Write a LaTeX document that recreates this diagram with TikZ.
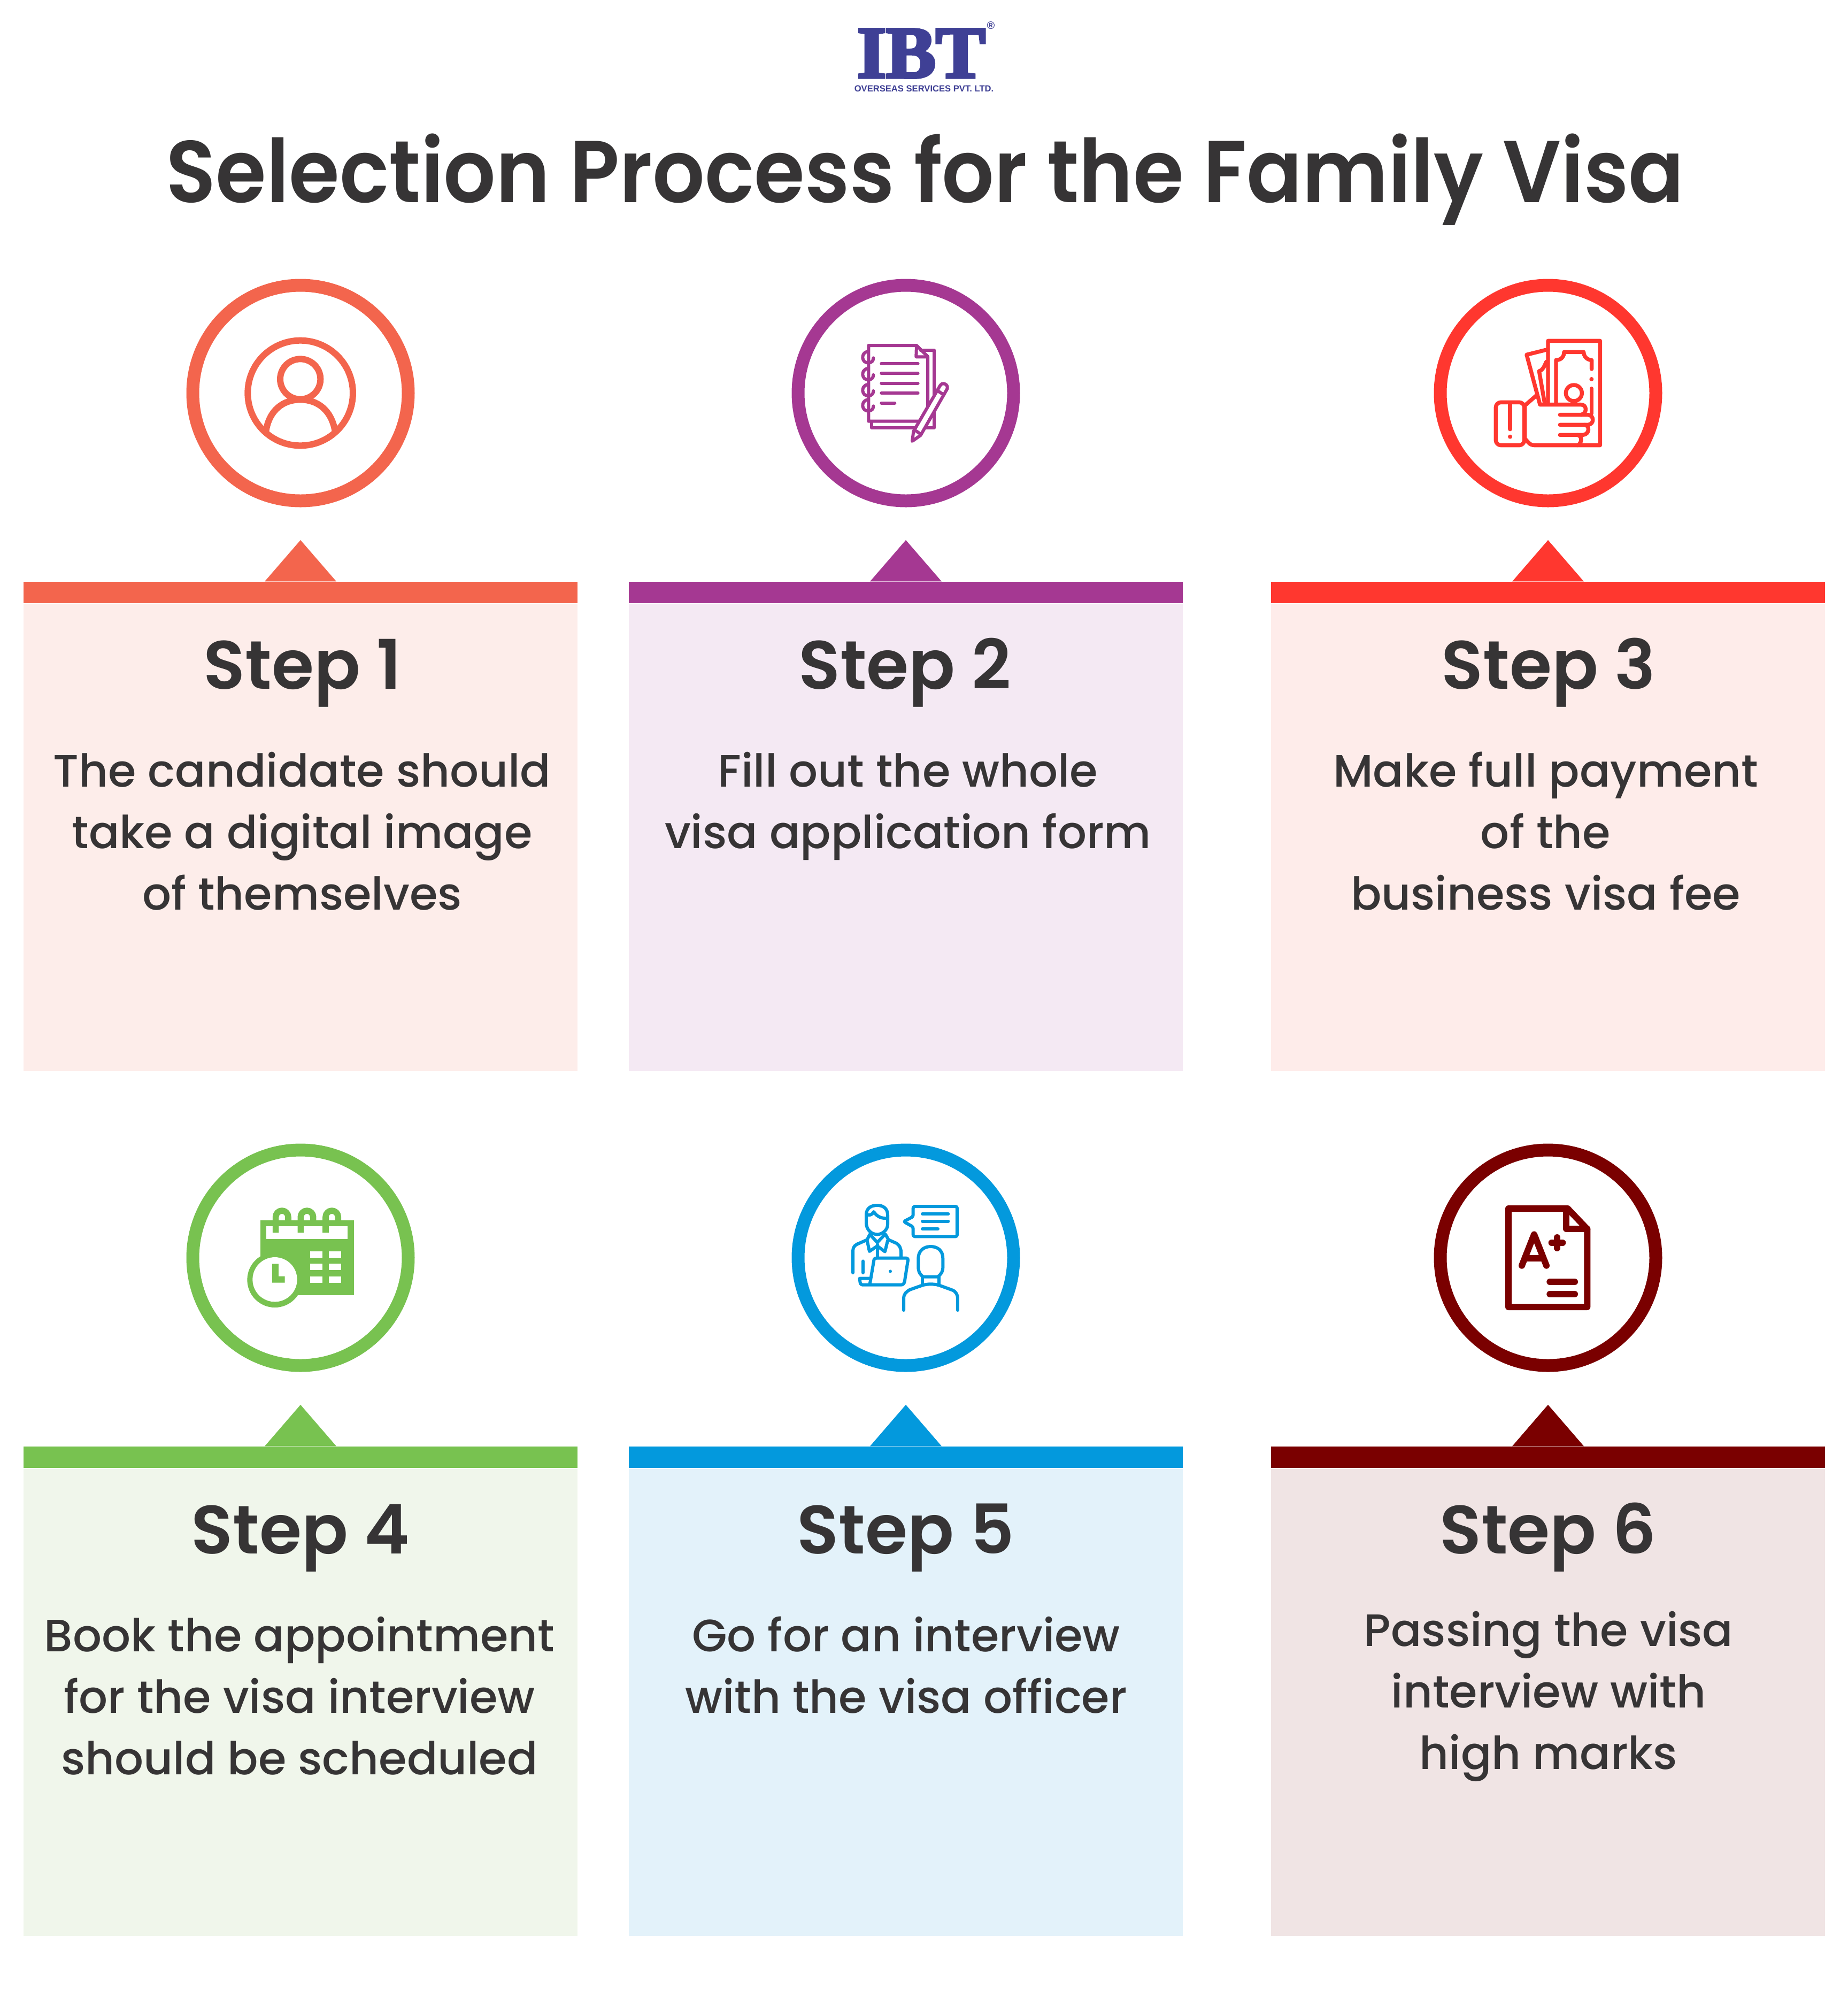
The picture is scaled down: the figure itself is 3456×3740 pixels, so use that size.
\documentclass[tikz,border=0pt]{standalone}
\usepackage{graphicx}
\usepackage{fontspec}
\setmainfont{Poppins}
\newfontfamily\titlefont[FakeStretch=0.935]{Poppins SemiBold}
\newfontfamily\headfont{Poppins SemiBold}
\newfontfamily\bodyfont{Poppins Medium}
\newfontfamily\logofont[FakeBold=4]{Liberation Serif Bold}
\newfontfamily\logosans{Liberation Sans Bold}
\definecolor{inkgray}{HTML}{363435}
\definecolor{logoblue}{HTML}{3F4095}
\definecolor{coral}{HTML}{F3654D}
\definecolor{coraltint}{HTML}{FDEDEA}
\definecolor{plum}{HTML}{A53892}
\definecolor{plumtint}{HTML}{F4E9F3}
\definecolor{scarlet}{HTML}{FF372F}
\definecolor{scarlettint}{HTML}{FEECEA}
\definecolor{leaf}{HTML}{78C250}
\definecolor{leaftint}{HTML}{F0F6EB}
\definecolor{sky}{HTML}{0399DD}
\definecolor{skytint}{HTML}{E3F2FA}
\definecolor{maroon}{HTML}{7A0000}
\definecolor{maroontint}{HTML}{F0E4E4}
\tikzset{
	ring/.style={circle,draw=#1,line width=6pt,minimum size=100.75pt,inner sep=0pt},
	panel/.style={fill=#1,anchor=north,minimum width=259pt,minimum height=218.25pt,inner sep=0pt},
	topbar/.style={fill=#1,anchor=south,minimum width=259pt,minimum height=10pt,inner sep=0pt},
	steplabel/.style={text=inkgray,anchor=base,inner sep=0pt,font=\headfont\fontsize{32}{36}\selectfont},
	bodytext/.style={text=inkgray,anchor=north,align=center,inner sep=0pt,font=\bodyfont\fontsize{21.2}{28.8}\selectfont},
	iconzoom/.style={x=0.08333pt,y=-0.08333pt,line cap=round,line join=round}
}
\begin{document}
\begin{tikzpicture}[x=0.25pt,y=-0.25pt]
	\useasboundingbox (0,0) rectangle (3456,3740);
	%Logo
	\node[inner sep=0pt] (logo) at (1723,100) {\textcolor{logoblue}{\resizebox{60pt}{22.5pt}{\logofont IBT}}};
	\node[text=logoblue,inner sep=0pt] (logosub) at (1728,166) {\logosans\fontsize{4.15}{4.5}\selectfont OVERSEAS SERVICES PVT. LTD.};
	\node[text=logoblue,inner sep=0pt] (logomark) at (1853,48) {\logosans\fontsize{5}{5}\selectfont ®};
	%Title
	\node[text=inkgray,anchor=base,inner sep=0pt] (title) at (1730,378) {\titlefont\fontsize{41}{46}\selectfont Selection Process for the Family Visa};
	%Cards
	\foreach \i/\cx/\cy/\bary/\main/\tint/\bodyx/\bodyy/\lbl/\txt in {
		1/562/735/1129/coral/coraltint/565/1405/566/{The candidate should\\take a digital image\\of themselves},
		2/1694/735/1129/plum/plumtint/1698/1405/1692/{Fill out the whole\\visa application form},
		3/2895/735/1129/scarlet/scarlettint/2890.5/1405/2896/{Make full payment\\of the\\business visa fee},
		4/562/2352/2746/leaf/leaftint/560/3022/562/{Book the appointment\\for the visa interview\\should be scheduled},
		5/1694/2352/2746/sky/skytint/1694.5/3022/1694/{Go for an interview\\with the visa officer},
		6/2895/2352/2746/maroon/maroontint/2896/3012/2895/{Passing the visa\\interview with\\high marks}}
	{
		%Ring
		\node[ring=\main] (ring\i) at (\cx,\cy) {};
		%Panel with its bar and pointer
		\node[panel=\tint] (panel\i) at (\cx,\bary) {};
		\node[topbar=\main] (bar\i) at (panel\i.north) {};
		\fill[\main] (bar\i.north) ++(-67,0) -- ++(67,-77.5) -- ++(67,77.5) -- cycle;
		%Texts
		\node[steplabel] (label\i) at (\lbl,\bary+159) {Step \i};
		\node[bodytext] (body\i) at (\bodyx,\bodyy) {\txt};
	}
	%Person icon
	\begin{scope}[shift={(340,510)},iconzoom,draw=coral,line width=3pt]
		\draw (665,675) circle (295);
		\draw (665,597) circle (113);
		\draw (472,890) .. controls (490,770) and (570,712) .. (665,712) .. controls (760,712) and (840,770) .. (860,890);
	\end{scope}
	%Notebook icon
	\begin{scope}[shift={(1480,510)},iconzoom,draw=plum,line width=1.5pt]
		\draw (725,435) -- (802,435) -- (802,870) -- (450,870) -- (450,835);
		\draw (433,408) -- (702,408) -- (765,470) -- (765,833) -- (433,833) -- cycle;
		\draw (702,408) -- (700,472) -- (765,472);
		\foreach \ly in {509,565,620,675}
			{
				\draw (505,\ly) -- (710,\ly);
			}
		\draw (505,731) -- (580,731);
		\foreach \ly in {0,95,185,270}
			{
				\draw (428,442+\ly) .. controls (385,450+\ly) and (395,510+\ly) .. (433,505+\ly) .. controls (450,505+\ly) and (460,495+\ly) .. (460,478+\ly);
			}
		%Pencil
		\draw[fill=white] (678,945) -- (685,890) -- (835,632) .. controls (845,615) and (870,620) .. (875,640) -- (875,650) -- (725,912) -- cycle;
		\draw (700,888) -- (725,905);
		\draw (825,665) -- (855,685);
	\end{scope}
	%Money icon
	\begin{scope}[shift={(2680,510)},iconzoom,draw=scarlet,line width=1.85pt]
		\draw (645,730) -- (645,382) -- (937,382) -- (937,968) -- (570,968) .. controls (540,968) and (530,945) .. (515,930) -- (515,745) -- (578,690);
		\draw[rounded corners=2.4pt] (352,727) rectangle (512,968);
		\draw (432,735) -- (432,878);
		\fill[scarlet] (432,920) circle (12);
		\draw (645,430) -- (525,460) -- (600,740) -- (830,740) .. controls (865,740) and (865,790) .. (830,797) -- (712,797);
		\draw (830,797) -- (870,797) .. controls (905,800) and (905,850) .. (870,853) -- (712,853);
		\draw (850,853) .. controls (880,855) and (880,908) .. (840,910) -- (712,910);
		\draw (810,910) .. controls (840,915) and (835,960) .. (810,968);
		\draw (635,500) .. controls (625,520) and (620,545) .. (595,552) -- (625,725);
		\draw (690,730) -- (690,490) .. controls (720,490) and (735,470) .. (735,445) -- (845,445) .. controls (845,470) and (865,490) .. (890,490) -- (890,540);
		\fill[scarlet] (889,597) circle (12);
		\draw (889,650) -- (889,790);
		\draw (790,675) circle (45);
	\end{scope}
	%Calendar icon
	\begin{scope}[shift={(340,2130)},iconzoom]
		\fill[leaf] (440,456) rectangle (965,876);
		\fill[white] (473,490) rectangle (930,560);
		\foreach \rx in {0,140,280}
			{
				\draw[leaf,line width=2.9pt,line cap=butt] (527+\rx,525) -- (527+\rx,437) arc (180:360:35) -- (597+\rx,456);
			}
		\foreach \gx in {720,825}
			{
				\foreach \gy in {630,700,770}
					{
						\fill[white] (\gx,\gy) rectangle (\gx+70,\gy+36);
					}
			}
		\fill[leaf] (522,790) circle (155);
		\fill[white] (522,788) circle (125);
		\fill[leaf] (507,700) -- (543,700) -- (543,770) -- (578,770) -- (578,806) -- (507,806) -- cycle;
	\end{scope}
	%Interview icon
	\begin{scope}[shift={(1480,2130)},iconzoom,draw=sky,line width=1.5pt]
		\draw (420,470) -- (420,425) .. controls (420,385) and (450,372) .. (482,372) .. controls (515,372) and (540,390) .. (540,425) -- (540,480) .. controls (540,510) and (510,535) .. (482,535) .. controls (450,535) and (420,510) .. (420,470) -- cycle;
		\draw (428,425) .. controls (445,430) and (455,420) .. (462,408) .. controls (475,425) and (490,445) .. (535,445);
		\draw (345,750) -- (345,630) .. controls (345,600) and (365,590) .. (380,585) -- (425,565) -- (440,535);
		\draw (528,535) -- (545,565) -- (590,585) .. controls (605,595) and (615,610) .. (615,635) -- (615,660);
		\draw (445,540) -- (482,580) -- (520,540);
		\draw (425,570) -- (438,630) -- (482,600) -- (525,632) -- (540,570);
		\draw (482,590) -- (482,660);
		\draw (402,685) -- (402,750);
		\draw (440,815) -- (463,680) .. controls (465,670) and (470,668) .. (480,668) -- (645,668) .. controls (652,668) and (655,672) .. (654,680) -- (635,800) .. controls (632,812) and (625,818) .. (615,818) -- (400,818) .. controls (390,818) and (386,810) .. (385,800) -- (383,782) -- (435,782);
		\fill[sky] (555,742) circle (9);
		\draw[rounded corners=0.8pt] (683,435) -- (683,378) -- (930,378) -- (930,547) -- (683,547) -- (683,493) -- (630,463) -- cycle;
		\draw (735,420) -- (880,420);
		\draw (735,461) -- (880,461);
		\draw (735,504) -- (822,504);
		\draw (712,690) -- (712,670) .. controls (712,625) and (745,603) .. (781,603) .. controls (820,603) and (850,625) .. (850,670) -- (850,720) .. controls (850,745) and (835,765) .. (820,773) -- (740,773) .. controls (725,765) and (712,745) .. (712,720) -- cycle;
		\draw (736,775) -- (736,815);
		\draw (828,775) -- (828,815);
		\draw (630,960) -- (630,895) .. controls (630,870) and (645,855) .. (665,845) -- (736,820) .. controls (765,812) and (800,812) .. (828,820) -- (905,848) .. controls (925,858) and (933,875) .. (933,895) -- (933,960);
	\end{scope}
	%Grade icon
	\begin{scope}[shift={(2680,2130)},iconzoom,draw=maroon,line width=3pt]
		\draw (423,390) -- (755,390) -- (865,505) -- (865,942) -- (423,942) -- cycle;
		\draw (748,390) -- (748,503) -- (865,503);
		\draw (498,710) -- (567,535) -- (636,710);
		\draw (525,668) -- (610,668);
		\draw (696,552) -- (696,612);
		\draw (665,582) -- (727,582);
		\draw (655,801) -- (795,801);
		\draw (655,870) -- (795,870);
	\end{scope}
\end{tikzpicture}
\end{document}
